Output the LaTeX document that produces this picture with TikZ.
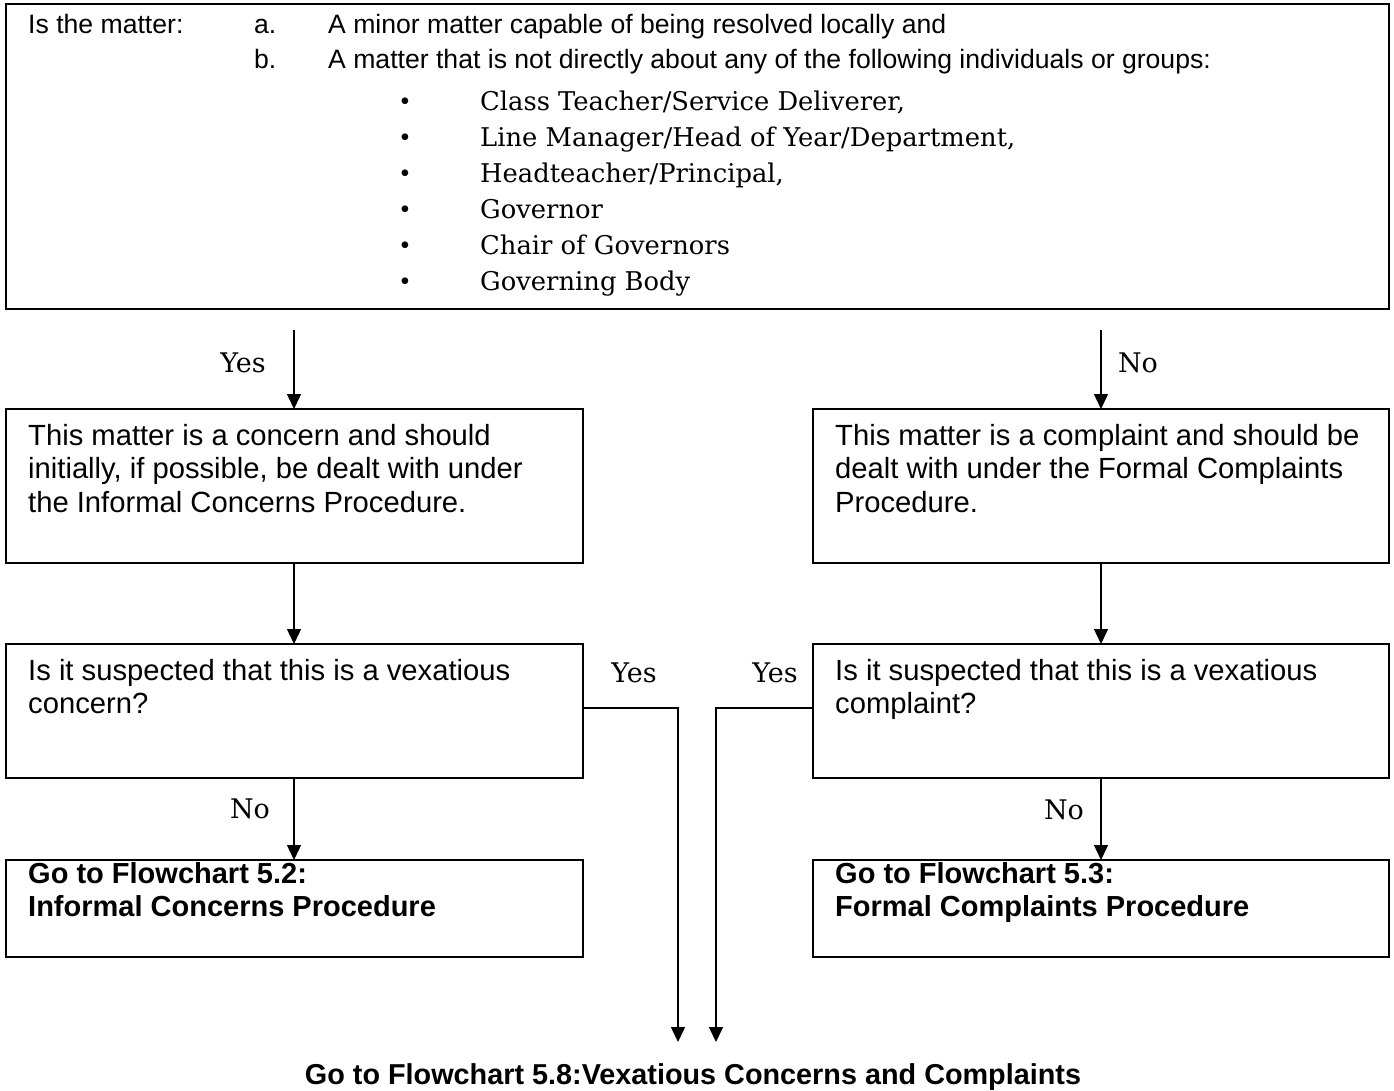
\documentclass[tikz,border=0pt]{standalone}
\usepackage{fontspec}
\setmainfont{Liberation Sans}
\newfontfamily\bkfont{DejaVu Serif}
\newfontfamily\bulfont{Liberation Serif}
\usetikzlibrary{arrows.meta}
\begin{document}
\begin{tikzpicture}[x=1pt,y=-1pt,
  frame/.style={draw, line width=1.3pt, rectangle, anchor=north west, inner sep=0pt, outer sep=0pt},
  arr/.style={line width=1.4pt, -{Triangle[length=15pt,width=14pt]}},
  topline/.style={font=\fontsize{26.6}{33}\selectfont, anchor=base west, inner sep=0pt},
  serifline/.style={font=\bkfont\fontsize{25.8}{33}\selectfont, anchor=base west, inner sep=0pt},
  bul/.style={font=\bulfont\fontsize{28}{28}\selectfont, anchor=base west, inner sep=0pt},
  boxline/.style={font=\fontsize{29.2}{33.5}\selectfont, anchor=base west, inner sep=0pt},
  boldline/.style={font=\bfseries\fontsize{29}{33.5}\selectfont, anchor=base west, inner sep=0pt},
  lab/.style={font=\bkfont\fontsize{27}{30}\selectfont, anchor=base, inner sep=0pt}
]
\useasboundingbox (0,0) rectangle (1394,1090);

% frames
\node[frame, line width=1.6pt, minimum width=1383pt, minimum height=305pt] (top) at (6,4) {};
\node[frame, minimum width=577pt, minimum height=154pt] (b1l) at (6,409) {};
\node[frame, minimum width=576pt, minimum height=154pt] (b1r) at (813,409) {};
\node[frame, minimum width=577pt, minimum height=134pt] (b2l) at (6,644) {};
\node[frame, minimum width=576pt, minimum height=134pt] (b2r) at (813,644) {};
\node[frame, minimum width=577pt, minimum height=97pt] (b3l) at (6,860) {};
\node[frame, minimum width=576pt, minimum height=97pt] (b3r) at (813,860) {};

% top box text
\node[topline] (q0) at (28,33) {Is the matter:};
\node[topline] (qa) at (254,33) {a.};
\node[topline] (qat) at (328,33) {A minor matter capable of being resolved locally and};
\node[topline] (qb) at (254,68) {b.};
\node[topline] (qbt) at (328,68) {A matter that is not directly about any of the following individuals or groups:};
\foreach \i/\y/\t in {1/110/{Class Teacher/Service Deliverer,},
                      2/146/{Line Manager/Head of Year/Department,},
                      3/182/{Headteacher/Principal,},
                      4/218/{Governor},
                      5/254/{Chair of Governors},
                      6/290/{Governing Body}}{
  \node[bul] (bu\i) at (400,\y) {\textbullet};
  \node[serifline] (li\i) at (480,\y) {\t};
}

% left column texts
\node[boxline] (l1a) at (28,445) {This matter is a concern and should};
\node[boxline] (l1b) at (28,478.5) {initially, if possible, be dealt with under};
\node[boxline] (l1c) at (28,512) {the Informal Concerns Procedure.};
\node[boxline] (l2a) at (28,680) {Is it suspected that this is a vexatious};
\node[boxline] (l2b) at (28,713.5) {concern?};
\node[boldline] (l3a) at (28,883) {Go to Flowchart 5.2:};
\node[boldline] (l3b) at (28,916.5) {Informal Concerns Procedure};

% right column texts
\node[boxline] (r1a) at (835,445) {This matter is a complaint and should be};
\node[boxline] (r1b) at (835,478.5) {dealt with under the Formal Complaints};
\node[boxline] (r1c) at (835,512) {Procedure.};
\node[boxline] (r2a) at (835,680) {Is it suspected that this is a vexatious};
\node[boxline] (r2b) at (835,713.5) {complaint?};
\node[boldline] (r3a) at (835,883) {Go to Flowchart 5.3:};
\node[boldline] (r3b) at (835,916.5) {Formal Complaints Procedure};

% bottom target
\node[font=\bfseries\fontsize{28.8}{33}\selectfont, anchor=base, inner sep=0pt] (vex) at (693,1084) {Go to Flowchart 5.8:Vexatious Concerns and Complaints};

% helper coordinates
\coordinate (xl) at (294,0);
\coordinate (xr) at (1101,0);
\coordinate (t1) at (678,1042);
\coordinate (t2) at (716,1042);

% connectors
\draw[arr, shorten <=21pt] (top.south -| xl) -- (b1l.north -| xl);
\draw[arr, shorten <=21pt] (top.south -| xr) -- (b1r.north -| xr);
\draw[arr] (b1l.south -| xl) -- (b2l.north -| xl);
\draw[arr] (b1r.south -| xr) -- (b2r.north -| xr);
\draw[arr] (b2l.south -| xl) -- (b3l.north -| xl);
\draw[arr] (b2r.south -| xr) -- (b3r.north -| xr);
\draw[arr] ([yshift=3pt]b2l.east) -| (t1);
\draw[arr] ([yshift=3pt]b2r.west) -| (t2);

% labels
\node[lab] (yes1) at (243,372) {Yes};
\node[lab] (no1) at (1138,372) {No};
\node[lab] (yes2) at (634,682) {Yes};
\node[lab] (yes3) at (775,682) {Yes};
\node[lab] (no2) at (250,818) {No};
\node[lab] (no3) at (1064,819) {No};
\end{tikzpicture}
\end{document}
